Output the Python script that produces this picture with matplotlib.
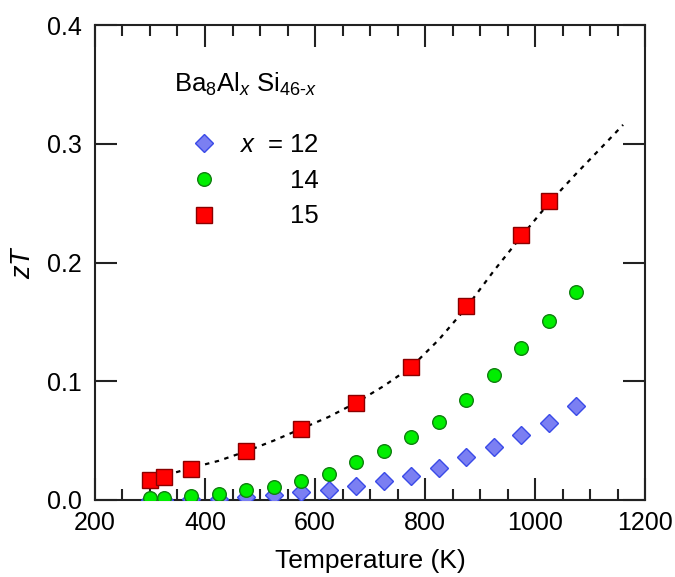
"""zT vs temperature for Ba8AlxSi46-x clathrates (x = 12, 14, 15)."""
import matplotlib
matplotlib.use("Agg")
import matplotlib.pyplot as plt
from matplotlib.ticker import MultipleLocator, FormatStrFormatter

plt.rcParams["font.family"] = ["Liberation Sans", "DejaVu Sans"]
plt.rcParams["mathtext.fontset"] = "custom"
plt.rcParams["mathtext.rm"] = "Liberation Sans"
plt.rcParams["mathtext.it"] = "Liberation Sans:italic"

# x = 12
t_x12 = [300, 325, 375, 425, 475, 525, 575, 625, 675, 725, 775, 825, 875, 925, 975, 1025, 1075]
zt_x12 = [0.000, 0.000, 0.0005, 0.0012, 0.0028, 0.0042, 0.0067, 0.0085, 0.0118, 0.0157,
          0.0205, 0.027, 0.036, 0.045, 0.055, 0.065, 0.079]

# x = 14
t_x14 = [300, 325, 375, 425, 475, 525, 575, 625, 675, 725, 775, 825, 875, 925, 975, 1025, 1075]
zt_x14 = [0.002, 0.002, 0.003, 0.005, 0.008, 0.011, 0.016, 0.022, 0.032, 0.041,
          0.053, 0.066, 0.084, 0.105, 0.128, 0.151, 0.175]

# x = 15
t_x15 = [300, 325, 375, 475, 575, 675, 775, 875, 975, 1025]
zt_x15 = [0.017, 0.019, 0.026, 0.041, 0.060, 0.082, 0.112, 0.163, 0.223, 0.252]

# dotted guide through the x = 15 points
t_fit = [330, 375, 425, 475, 525, 575, 625, 675, 725, 775, 825, 875, 925, 975, 1025, 1075, 1125, 1160]
zt_fit = [0.021, 0.027, 0.033, 0.041, 0.050, 0.060, 0.070, 0.082, 0.096, 0.112,
          0.135, 0.162, 0.193, 0.222, 0.250, 0.275, 0.299, 0.316]

fig = plt.figure(figsize=(6.75, 5.77), dpi=100)
ax = fig.add_axes([0.1407, 0.1335, 0.815, 0.823])

ax.plot(t_fit, zt_fit, color="black", lw=1.6, ls=(0, (2, 2.5)), zorder=1)
h12, = ax.plot(t_x12, zt_x12, ls="none", marker="D", ms=9, mfc="#7b7ff2",
               mec="#3a4ae8", mew=1.0, zorder=3)
h14, = ax.plot(t_x14, zt_x14, ls="none", marker="o", ms=9.8, mfc="#00ee00",
               mec="#108010", mew=1.0, zorder=3)
h15, = ax.plot(t_x15, zt_x15, ls="none", marker="s", ms=11.5, mfc="#ff0000",
               mec="#8a0000", mew=1.0, zorder=4)

ax.set_xlim(200, 1200)
ax.set_ylim(0, 0.4)
ax.xaxis.set_major_locator(MultipleLocator(200))
ax.xaxis.set_minor_locator(MultipleLocator(50))
ax.yaxis.set_major_locator(MultipleLocator(0.1))
ax.yaxis.set_major_formatter(FormatStrFormatter("%.1f"))

ax.tick_params(which="both", direction="in", top=True, right=True, width=1.5,
               labelsize=18, color="#222222")
ax.tick_params(axis="x", which="major", length=16, pad=8)
ax.tick_params(axis="x", which="minor", length=8)
ax.tick_params(axis="y", which="major", length=16, pad=9.5)
for sp in ax.spines.values():
    sp.set_linewidth(1.5)
    sp.set_color("#222222")

ax.set_xlabel("Temperature (K)", fontsize=19, labelpad=10)
ax.set_ylabel("$zT$", fontsize=19.5, labelpad=8)

ax.text(0.144, 0.859, "Ba$_8$Al$_x$ Si$_{46\\text{-}x}$", transform=ax.transAxes,
        fontsize=18.5, ha="left", va="baseline")

leg = ax.legend([h12, h14, h15], ["$x$  = 12", "14", "15"], loc="upper left",
                bbox_to_anchor=(0.177, 0.772), frameon=False, fontsize=18.5,
                handlelength=0.9, handletextpad=0.9, labelspacing=0.45,
                borderpad=0, borderaxespad=0)

# right-align the legend labels
renderer = fig.canvas.get_renderer()
texts = leg.get_texts()
widths = [t.get_window_extent(renderer).width for t in texts]
for t, w in zip(texts, widths):
    t.set_x(max(widths) - w)

fig.savefig("out.png", dpi=100)
